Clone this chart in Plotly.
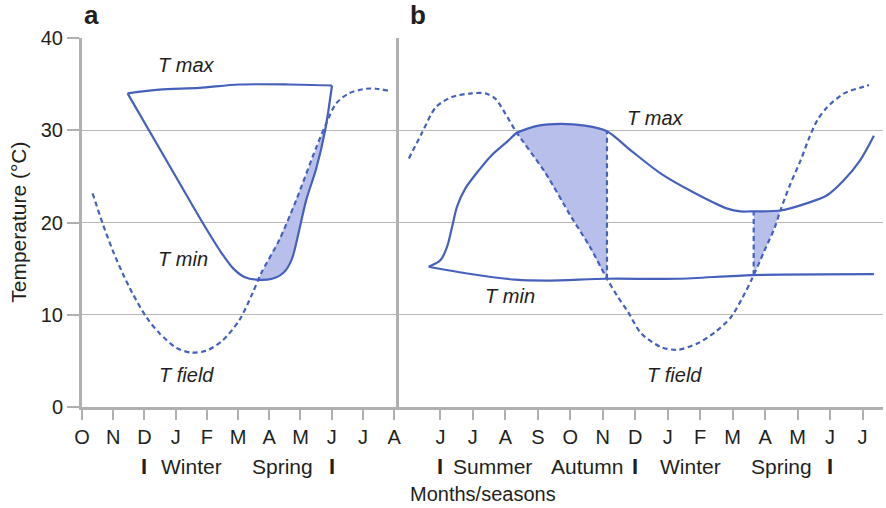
import numpy as np
import plotly.graph_objects as go

# ---------------- data ----------------
# Panel a: x = months counted from October (0) to August (10)
a_months = ["O", "N", "D", "J", "F", "M", "A", "M", "J", "J", "A"]
a_tmax_x = [1.46, 2.48, 3.76, 5.04, 6.64, 8.01]
a_tmax_y = [34.0, 34.4, 34.6, 34.96, 34.96, 34.85]
a_tmin_x = [1.46, 2.66, 3.86, 4.45, 4.85, 5.20, 5.58, 6.09, 6.47, 6.72, 6.92, 7.18, 7.50, 7.79, 8.01]
a_tmin_y = [34.0, 27.0, 20.0, 16.8, 15.0, 14.1, 13.8, 13.9, 14.6, 16.0, 18.6, 22.4, 25.8, 30.0, 34.85]
a_tfield_x = [0.34, 0.66, 0.98, 1.30, 1.62, 2.07, 2.48, 3.03, 3.50, 3.98, 4.50, 5.04, 5.46, 5.74,
              6.32, 6.86, 7.50, 7.82, 8.14, 8.55, 9.10, 9.42, 9.80]
a_tfield_y = [23.15, 19.9, 17.0, 14.5, 12.3, 9.7, 8.0, 6.4, 5.9, 6.1, 7.2, 9.4, 12.3, 14.5,
              18.1, 22.4, 28.1, 30.7, 32.9, 34.0, 34.5, 34.5, 34.3]

# Panel b: x = months counted from June (0)
b_months = ["J", "J", "A", "S", "O", "N", "D", "J", "F", "M", "A", "M", "J", "J"]
b_tmax_x = [-0.36, 0.0, 0.2, 0.36, 0.51, 0.77, 1.17, 1.58, 2.10, 2.35, 3.02, 3.72, 4.45, 5.13,
            5.87, 6.79, 7.83, 8.84, 9.24, 9.55, 10.47, 11.30, 11.91, 12.43, 12.92, 13.35]
b_tmax_y = [15.2, 15.9, 17.3, 19.5, 21.7, 23.7, 25.6, 27.3, 28.9, 29.7, 30.5, 30.7, 30.5, 29.9,
            27.8, 25.3, 23.2, 21.5, 21.2, 21.2, 21.3, 22.1, 22.95, 24.6, 26.7, 29.4]
b_tmin_x = [-0.36, 0.78, 2.31, 3.32, 5.13, 7.31, 9.61, 13.35]
b_tmin_y = [15.2, 14.5, 13.8, 13.7, 13.9, 13.9, 14.3, 14.4]
b_tfield_x = [-0.97, -0.57, -0.14, 0.35, 0.96, 1.39, 1.70, 2.00, 2.34, 3.23, 4.03, 4.60, 5.13,
              5.47, 5.78, 6.18, 6.79, 7.31, 7.92, 8.45, 8.94, 9.31, 9.61, 9.98, 10.29,
              10.47, 10.78, 11.09, 11.36, 11.61, 11.91, 12.43, 12.92, 13.20]
b_tfield_y = [26.95, 29.7, 32.5, 33.6, 34.0, 34.0, 33.4, 31.8, 29.8, 25.4, 20.6, 17.4, 13.9,
              11.9, 10.3, 8.0, 6.5, 6.2, 6.9, 8.1, 9.7, 11.9, 14.0, 16.95, 19.4,
              21.3, 24.2, 26.7, 29.2, 31.1, 32.5, 34.0, 34.6, 34.9]

# Seasons: boundary months and label centres
a_season_bounds = [2, 8]
a_season_names = ["Winter", "Spring"]
a_season_pos = [3.51, 6.41]
b_season_bounds = [0, 6, 12]
b_season_names = ["Summer", "Autumn", "Winter", "Spring"]
b_season_pos = [1.6, 4.52, 7.7, 10.5]

LINE = "#4661bb"
FILL = "#b9bfeb"
GRID = "#b8b8b8"
AXIS = "#b0b0b0"
TEXT = "#231f20"
FONT = "Liberation Sans, Arial, sans-serif"


def crossings(x1, y1, x2, y2, lo, hi):
    g = np.linspace(lo, hi, 4001)
    d = np.interp(g, x1, y1) - np.interp(g, x2, y2)
    idx = np.where(np.diff(np.sign(d)) != 0)[0]
    return [g[i] for i in idx]


def band(xs, xe, xu, yu, xl, yl, n=80):
    g = np.linspace(xs, xe, n)
    up = np.interp(g, xu, yu)
    lo = np.interp(g, xl, yl)
    return list(g) + list(g[::-1]), list(up) + list(lo[::-1])


fig = go.Figure()

# ---- panel a shading: T field above T min during spring ----
ca = crossings(a_tfield_x, a_tfield_y, a_tmin_x, a_tmin_y, 5.3, 8.0)
px_, py_ = band(ca[0], ca[-1], a_tfield_x, a_tfield_y, a_tmin_x, a_tmin_y)
fig.add_trace(go.Scatter(x=px_, y=py_, xaxis="x", yaxis="y", fill="toself", fillcolor=FILL,
                         line=dict(width=0), mode="lines", hoverinfo="skip"))

# ---- panel b shading: T field between T min and T max ----
b_hi1 = crossings(b_tfield_x, b_tfield_y, b_tmax_x, b_tmax_y, 1.8, 3.0)[0]
b_lo1 = crossings(b_tfield_x, b_tfield_y, b_tmin_x, b_tmin_y, 4.5, 5.8)[0]
b_lo2 = crossings(b_tfield_x, b_tfield_y, b_tmin_x, b_tmin_y, 9.0, 10.2)[0]
b_hi2 = crossings(b_tfield_x, b_tfield_y, b_tmax_x, b_tmax_y, 10.0, 11.0)[0]
for xs, xe in [(b_hi1, b_lo1), (b_lo2, b_hi2)]:
    px_, py_ = band(xs, xe, b_tmax_x, b_tmax_y, b_tfield_x, b_tfield_y)
    fig.add_trace(go.Scatter(x=px_, y=py_, xaxis="x2", yaxis="y2", fill="toself", fillcolor=FILL,
                             line=dict(width=0), mode="lines", hoverinfo="skip"))

# vertical dashed cut-offs where T field meets T min
for xv in [b_lo1, b_lo2]:
    fig.add_trace(go.Scatter(x=[xv, xv],
                             y=[np.interp(xv, b_tmin_x, b_tmin_y), np.interp(xv, b_tmax_x, b_tmax_y)],
                             xaxis="x2", yaxis="y2", mode="lines",
                             line=dict(color=LINE, width=2.2, dash="5px,3.5px"), hoverinfo="skip"))

# ---- curves ----
solid = dict(color=LINE, width=2.2, shape="spline", smoothing=0.8)
dashed = dict(color=LINE, width=2.2, shape="spline", smoothing=0.8, dash="5px,3.5px")
fig.add_trace(go.Scatter(x=a_tmax_x, y=a_tmax_y, xaxis="x", yaxis="y", mode="lines", line=solid))
fig.add_trace(go.Scatter(x=a_tmin_x, y=a_tmin_y, xaxis="x", yaxis="y", mode="lines", line=solid))
fig.add_trace(go.Scatter(x=a_tfield_x, y=a_tfield_y, xaxis="x", yaxis="y", mode="lines", line=dashed))
fig.add_trace(go.Scatter(x=b_tmax_x, y=b_tmax_y, xaxis="x2", yaxis="y2", mode="lines", line=solid))
fig.add_trace(go.Scatter(x=b_tmin_x, y=b_tmin_y, xaxis="x2", yaxis="y2", mode="lines", line=solid))
fig.add_trace(go.Scatter(x=b_tfield_x, y=b_tfield_y, xaxis="x2", yaxis="y2", mode="lines", line=dashed))

# ---- axes ----
split = 318 / 804
common_x = dict(ticks="outside", ticklen=10, tickwidth=1.5, tickcolor=AXIS, showline=True,
                linecolor=AXIS, linewidth=3, showgrid=False, zeroline=False,
                tickfont=dict(size=20, color=TEXT))
common_y = dict(range=[0, 40], tickvals=[0, 10, 20, 30, 40], showline=True, linecolor=AXIS,
                linewidth=3, showgrid=True, gridcolor=GRID, gridwidth=1.2, zeroline=False)
fig.update_layout(
    xaxis=dict(domain=[0, split], range=[0, 10.15], tickvals=list(range(len(a_months))),
               ticktext=a_months, anchor="y", **common_x),
    xaxis2=dict(domain=[split, 1], range=[-1.28, 13.63], tickvals=list(range(len(b_months))),
                ticktext=b_months, anchor="y2", **common_x),
    yaxis=dict(anchor="x", ticks="outside", ticklen=12, tickwidth=1.5, tickcolor=AXIS,
               tickfont=dict(size=20, color=TEXT), **common_y),
    yaxis2=dict(anchor="x2", ticks="", showticklabels=False, **common_y),
    width=886, height=508,
    margin=dict(l=82, r=0, t=38, b=101),
    plot_bgcolor="white", paper_bgcolor="white",
    showlegend=False,
    font=dict(family=FONT, size=20, color=TEXT),
)

ann = []
# curve labels
for xr, x, y, t in [("x", 3.35, 37.1, "T max"), ("x", 3.25, 16.0, "T min"), ("x", 3.34, 3.5, "T field"),
                    ("x2", 6.63, 31.3, "T max"), ("x2", 2.13, 12.0, "T min"), ("x2", 7.22, 3.5, "T field")]:
    ann.append(dict(x=x, y=y, xref=xr, yref="y" if xr == "x" else "y2", text=f"<i>{t}</i>",
                    showarrow=False, font=dict(size=20, color=TEXT)))
# season row
SEASON_Y = -0.161
for xr, bounds, names, pos in [("x", a_season_bounds, a_season_names, a_season_pos),
                               ("x2", b_season_bounds, b_season_names, b_season_pos)]:
    for b in bounds:
        ann.append(dict(x=b, y=SEASON_Y, xref=xr, yref="paper", yanchor="middle", text="<b>I</b>",
                        showarrow=False, font=dict(size=22, color=TEXT)))
    for n, p in zip(names, pos):
        ann.append(dict(x=p, y=SEASON_Y, xref=xr, yref="paper", yanchor="middle", text=n,
                        showarrow=False, font=dict(size=21, color=TEXT)))
# axis titles and panel letters
ann.append(dict(x=0.5, y=-0.2365, xref="paper", yref="paper", yanchor="middle", text="Months/seasons",
                showarrow=False, font=dict(size=20, color=TEXT)))
ann.append(dict(x=-0.0796, y=0.5, xref="paper", yref="paper", xanchor="center", yanchor="middle",
                text="Temperature (°C)", textangle=-90, showarrow=False, font=dict(size=21, color=TEXT)))
ann.append(dict(x=0.0, y=1.061, xref="paper", yref="paper", xanchor="left", yanchor="middle",
                text="<b>a</b>", showarrow=False, font=dict(size=26, color=TEXT)))
ann.append(dict(x=0.4067, y=1.061, xref="paper", yref="paper", xanchor="left", yanchor="middle",
                text="<b>b</b>", showarrow=False, font=dict(size=26, color=TEXT)))
fig.update_layout(annotations=ann)

fig.write_html("out.html")
